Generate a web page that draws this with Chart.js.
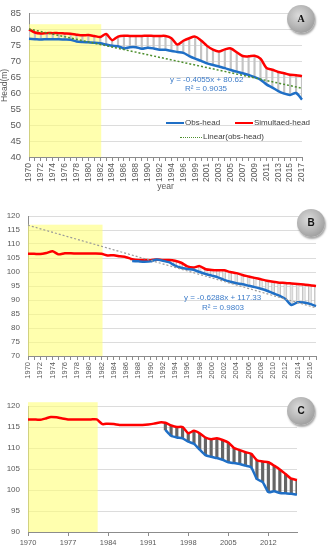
<!DOCTYPE html>
<html>
<head>
<meta charset="utf-8">
<script src="https://cdn.jsdelivr.net/npm/chart.js@4.4.1/dist/chart.umd.min.js"></script>
<style>
body { margin:0; width:330px; height:550px; background:#fff; position:relative; overflow:hidden; font-family:'Liberation Sans', Arial, sans-serif; }
canvas { position:absolute; left:0; }
.t { position:absolute; white-space:nowrap; line-height:10px; font-size:8px; color:#404040; }
.eq { color:#3d7cc9; }
.key { position:absolute; height:0; }
.badge { position:absolute; width:28px; height:28px; border-radius:50%;
  background:radial-gradient(circle at 42% 38%, #dcdcdc 0%, #b8b8b8 45%, #8a8a8a 100%);
  box-shadow:1px 2px 2px rgba(0,0,0,0.35); text-align:center; line-height:28px;
  font-weight:bold; font-size:10px; color:#111; }
</style>
</head>
<body>
<canvas id="chartA" width="330" height="192" style="top:0"></canvas>
<canvas id="chartB" width="330" height="188" style="top:192px"></canvas>
<canvas id="chartC" width="330" height="170" style="top:380px"></canvas>

<!-- panel A legend + equation -->
<div class="key" style="left:166px;top:122px;width:18px;border-top:2.5px solid #1f6fc6"></div>
<div class="t" style="left:185px;top:118px">Obs-head</div>
<div class="key" style="left:235px;top:122px;width:18px;border-top:2.5px solid #ff0000"></div>
<div class="t" style="left:254px;top:118px">Simultaed-head</div>
<div class="key" style="left:180px;top:137px;width:22px;border-top:1.5px dotted #4e8f2e"></div>
<div class="t" style="left:203px;top:132px">Linear(obs-head)</div>
<div class="t eq" style="left:170px;top:75px">y = -0.4055x + 80.62</div>
<div class="t eq" style="left:185px;top:84px">R² = 0.9035</div>
<div class="badge" style="left:287px;top:5px;font-family:'Liberation Serif',serif">A</div>

<!-- panel B -->
<div class="t eq" style="left:184px;top:293px">y = -0.6288x + 117.33</div>
<div class="t eq" style="left:202px;top:303px">R² = 0.9803</div>
<div class="badge" style="left:297px;top:209px">B</div>

<!-- panel C -->
<div class="badge" style="left:287px;top:397px">C</div>

<script>
// ---- data ----
const yearsA = ['1970','1971','1972','1973','1974','1975','1976','1977','1978','1979','1980','1981','1982','1983','1984','1985','1986','1987','1988','1989','1990','1991','1992','1993','1994','1995','1996','1998','1999','2000','2001','2002','2003','2004','2005','2006','2007','2008','2009','2010','2011','2012','2013','2014','2015','2016','2017'];
const obsA = [77.1,77.0,76.9,77.0,77.0,77.0,76.9,76.8,76.3,76.1,76.0,75.9,75.7,75.3,74.9,74.8,74.1,74.5,74.5,74.0,74.3,74.1,73.7,73.7,73.3,73.0,72.7,71.7,70.9,70.2,69.4,68.9,68.4,67.9,67.3,66.8,66.3,65.8,65.1,64.3,62.8,61.8,60.7,59.9,59.5,60.1,58.0];
const simA = [80.1,79.1,78.8,78.9,78.9,78.9,78.8,78.7,78.4,78.2,78.3,78.0,77.7,78.6,76.7,77.8,78.1,78.0,78.0,78.0,78.1,78.0,78.0,78.0,77.3,75.3,76.5,77.3,77.8,76.6,74.9,73.7,73.1,73.8,74.1,72.9,71.7,71.6,71.8,70.9,68.0,67.4,66.7,66.3,65.8,65.7,65.4];
const trendEndsA = [80.2, 61.6];

const yearsB = ['1970','1971','1972','1973','1974','1975','1976','1977','1978','1979','1980','1981','1982','1983','1984','1985','1986','1987','1988','1989','1990','1991','1992','1993','1994','1995','1996','1997','1998','1999','2000','2001','2002','2003','2004','2005','2006','2007','2008','2009','2010','2011','2012','2013','2014','2015','2016','2017'];
const simB = [106.5,106.5,106.4,106.8,107.4,106.3,106.7,106.7,106.6,106.6,106.6,106.6,106.5,105.9,106.0,105.6,105.3,104.6,104.3,104.3,104.2,104.5,104.3,104.3,104.0,103.3,102.0,101.6,102.1,101.0,100.7,100.6,100.6,100.0,99.6,98.9,98.4,97.9,97.4,96.9,96.5,96.2,96.1,95.9,95.7,95.5,95.3,95.0];
const obsB = [null,null,null,null,null,null,null,null,null,null,null,null,null,null,null,null,null,103.9,103.8,103.7,103.8,104.5,104.0,103.5,102.3,101.5,101.1,100.8,100.0,99.3,98.7,98.1,97.2,96.5,96.0,95.6,95.1,94.6,94.0,93.3,92.4,91.6,90.4,88.2,89.2,89.1,88.6,87.8];
const trendEndsB = [116.7, 87.2];

const yearsC = yearsB;
const simC = [116.8,116.8,116.7,117.0,117.4,117.3,117.0,116.8,116.8,116.8,116.8,116.8,116.8,115.7,115.8,115.7,115.5,115.5,115.5,115.5,115.5,115.6,115.8,116.1,116.0,115.4,115.0,115.0,113.5,114.1,113.5,112.5,112.1,112.3,111.9,111.3,110.0,109.5,109.0,108.6,107.1,106.8,106.6,105.8,104.9,103.8,102.7,102.4];
const obsC = [null,null,null,null,null,null,null,null,null,null,null,null,null,null,null,null,null,null,null,null,null,null,null,null,114.3,112.9,112.5,112.3,111.5,111.0,109.6,108.3,107.9,107.6,107.2,106.6,106.4,106.2,105.8,105.4,102.6,101.9,99.5,99.7,99.3,99.2,99.1,98.9];

// yellow calibration period
const shadeEndYear = '1982';
const shadeTopA = 81.7, shadeTopB = 116.9, shadeTopC = 120.9;

Chart.defaults.font.family = "'Liberation Sans', Arial, sans-serif";
Chart.defaults.color = '#595959';

const shadePlugin = {
  id: 'shade',
  beforeDatasetsDraw(chart, args, opts) {
    const xs = chart.scales.x, ys = chart.scales.y, ctx = chart.ctx;
    const labels = chart.data.labels;
    const x0 = xs.getPixelForValue(0);
    const x1 = xs.getPixelForValue(labels.indexOf(shadeEndYear)) + 1;
    const yt = ys.getPixelForValue(opts.top);
    const yb = ys.getPixelForValue(ys.min);
    ctx.save();
    ctx.fillStyle = 'rgba(255,255,120,0.6)';
    ctx.fillRect(x0, yt, x1 - x0, yb - yt);
    ctx.restore();
  }
};

function hilo(obs, sim) {
  return obs.map((o, i) => (o != null && sim[i] != null) ? [o, sim[i]] : null);
}
function trend(labels, ends) {
  return labels.map((l, i) => i === 0 ? ends[0] : (i === labels.length - 1 ? ends[1] : null));
}

function xAxis(labels, opt) {
  return {
    type: 'category', offset: false,
    grid: { display: true, offset: false, drawOnChartArea: false, drawTicks: true, tickLength: 4, color: opt.tickColor || '#8c8c8c' },
    border: { color: '#8c8c8c' },
    ticks: {
      autoSkip: false, maxRotation: opt.rot, minRotation: opt.rot, padding: 2,
      font: { size: opt.size }, color: '#595959',
      callback: (v, i) => i % opt.every === 0 ? labels[i] : ''
    },
    title: opt.title ? { display: true, text: opt.title, font: { size: 8.5 }, color: '#595959', padding: { top: 0, bottom: 0 } } : { display: false },
    afterFit: s => { s.height = opt.h; }
  };
}
function yAxis(min, max, size, pad, w, title) {
  return {
    min: min, max: max,
    ticks: { stepSize: 5, font: { size: size }, color: '#595959', padding: pad },
    grid: { color: '#dcdcdc', drawTicks: false },
    border: { color: '#8c8c8c' },
    title: title ? { display: true, text: title, font: { size: 8.5 }, color: '#595959', padding: 0 } : { display: false },
    afterFit: s => { s.width = w; }
  };
}

const base = {
  responsive: false, animation: false, devicePixelRatio: 1,
  plugins: { legend: { display: false }, tooltip: { enabled: false } }
};

// ---- A ----
new Chart(document.getElementById('chartA'), {
  type: 'line',
  data: {
    labels: yearsA,
    datasets: [
      { label: 'Linear(obs-head)', data: trend(yearsA, trendEndsA), spanGaps: true, borderColor: '#4e8f2e', borderWidth: 1.5, borderDash: [2, 2], pointRadius: 0, order: 0 },
      { label: 'Obs-head', data: obsA, borderColor: '#1f6fc6', borderWidth: 2.5, pointRadius: 0, tension: 0.3, order: 1 },
      { label: 'Simultaed-head', data: simA, borderColor: '#ff0000', borderWidth: 2.5, pointRadius: 0, tension: 0.3, order: 1 },
      { type: 'bar', data: hilo(obsA, simA), backgroundColor: '#c4c4c4', barThickness: 1.5, order: 5 }
    ]
  },
  options: Object.assign({}, base, {
    layout: { padding: { top: 10, right: 28, left: 0, bottom: 0 } },
    scales: {
      x: xAxis(yearsA, { rot: 90, size: 8.5, every: 2, h: 35, title: 'year' }),
      y: yAxis(40, 85, 9.5, 8, 29, 'Head(m)')
    },
    plugins: Object.assign({}, base.plugins, { shade: { top: shadeTopA } })
  }),
  plugins: [shadePlugin]
});

// ---- B ----
new Chart(document.getElementById('chartB'), {
  type: 'line',
  data: {
    labels: yearsB,
    datasets: [
      { data: trend(yearsB, trendEndsB), spanGaps: true, borderColor: '#9a9a9a', borderWidth: 1.2, borderDash: [2, 2], pointRadius: 0, order: 0 },
      { data: obsB, borderColor: '#1f6fc6', borderWidth: 2.5, pointRadius: 0, tension: 0.2, order: 1 },
      { data: simB, borderColor: '#ff0000', borderWidth: 2.5, pointRadius: 0, tension: 0.2, order: 1 },
      { type: 'bar', data: hilo(obsB, simB), backgroundColor: '#e4e4e4', borderColor: '#a8a8a8', borderWidth: 0.6, barThickness: 3, order: 5 }
    ]
  },
  options: Object.assign({}, base, {
    layout: { padding: { top: 24, right: 14, left: 0, bottom: 0 } },
    scales: {
      x: xAxis(yearsB, { rot: 90, size: 7.5, every: 2, h: 24 }),
      y: yAxis(70, 120, 8, 8, 28)
    },
    plugins: Object.assign({}, base.plugins, { shade: { top: shadeTopB } })
  }),
  plugins: [shadePlugin]
});

// ---- C ----
new Chart(document.getElementById('chartC'), {
  type: 'line',
  data: {
    labels: yearsC,
    datasets: [
      { data: obsC, borderColor: '#1f6fc6', borderWidth: 2.5, pointRadius: 0, tension: 0.2, order: 1 },
      { data: simC, borderColor: '#ff0000', borderWidth: 2.5, pointRadius: 0, tension: 0.2, order: 1 },
      { type: 'bar', data: hilo(obsC, simC), backgroundColor: '#666666', barThickness: 2.5, order: 5 }
    ]
  },
  options: Object.assign({}, base, {
    layout: { padding: { top: 26, right: 33, left: 0, bottom: 0 } },
    scales: {
      x: xAxis(yearsC, { rot: 0, size: 7.5, every: 7, h: 18, tickColor: c => (c.index % 7 === 0 ? '#8c8c8c' : 'rgba(0,0,0,0)') }),
      y: yAxis(90, 120, 8, 8, 28)
    },
    plugins: Object.assign({}, base.plugins, { shade: { top: shadeTopC } })
  }),
  plugins: [shadePlugin]
});
</script>
</body>
</html>
